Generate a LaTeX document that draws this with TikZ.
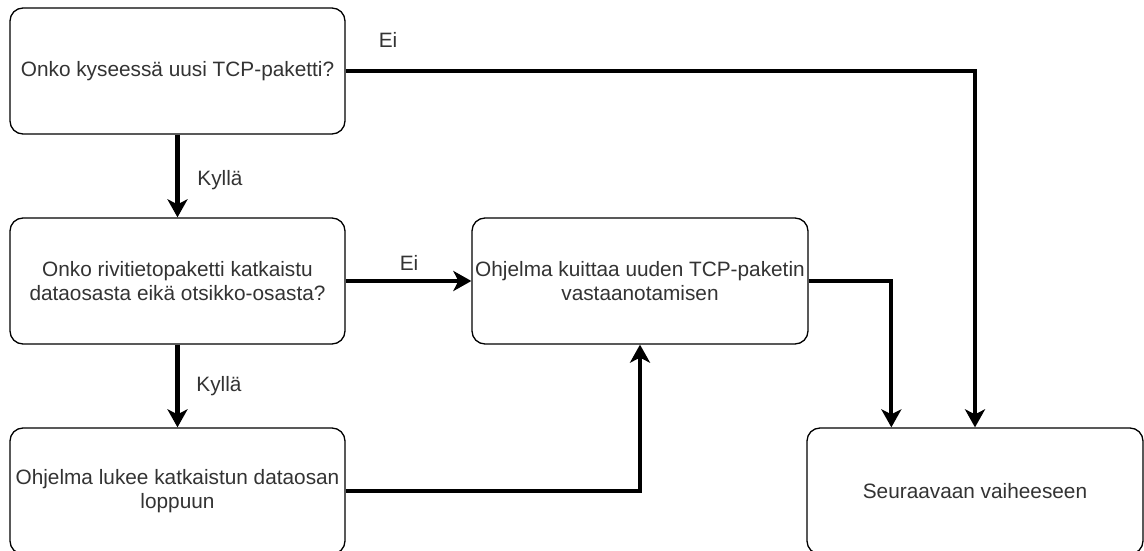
\documentclass[tikz,border=0pt]{standalone}
\usepackage{fontspec}
\setmainfont{Liberation Sans}
\usetikzlibrary{arrows.meta}
\definecolor{txtgray}{RGB}{51,51,51}
\tikzset{
  flowbox/.style={draw=black, line width=1.3pt, rounded corners=13pt,
    minimum width=335pt, minimum height=126pt, inner sep=0pt,
    align=center, text=txtgray,
    font=\fontsize{20.8pt}{24.5pt}\selectfont},
  flow/.style={line width=4.2pt, -{Stealth[length=18pt,width=20pt,inset=5pt]}},
  edgelabel/.style={text=txtgray, font=\fontsize{20.8pt}{24.5pt}\selectfont, inner sep=0pt}
}
\begin{document}
\begin{tikzpicture}[x=1pt, y=-1pt]
  \useasboundingbox (0,0) rectangle (1144,551);
  \fill[white] (0,0) rectangle (1144,551);

  % process boxes
  \node[flowbox] (q1) at (177.5,71) {Onko kyseessä uusi TCP-paketti?};
  \node[flowbox] (q2) at (177.5,281) {Onko rivitietopaketti katkaistu\\dataosasta eikä otsikko-osasta?};
  \node[flowbox] (read) at (177.5,491) {Ohjelma lukee katkaistun dataosan\\loppuun};
  \node[flowbox, minimum width=336pt] (ack) at (640,281) {Ohjelma kuittaa uuden TCP-paketin\\vastaanotamisen};
  \node[flowbox, minimum width=336pt] (next) at (975,491) {Seuraavaan vaiheeseen};

  % connectors
  \draw[flow] (q1.south) -- (q2.north);
  \draw[flow] (q2.south) -- (read.north);
  \draw[flow] (q2.east) -- (ack.west);
  \draw[flow] (q1.east) -| (next.north);
  \draw[flow] (read.east) -| (ack.south);
  \draw[flow] (ack.east) -| ([xshift=85pt]next.north west);

  % branch labels
  \node[edgelabel] (l1) at (388,40) {Ei};
  \node[edgelabel] (l2) at (220,180) {Kyllä};
  \node[edgelabel] (l3) at (409,263) {Ei};
  \node[edgelabel] (l4) at (219,386) {Kyllä};
\end{tikzpicture}
\end{document}
